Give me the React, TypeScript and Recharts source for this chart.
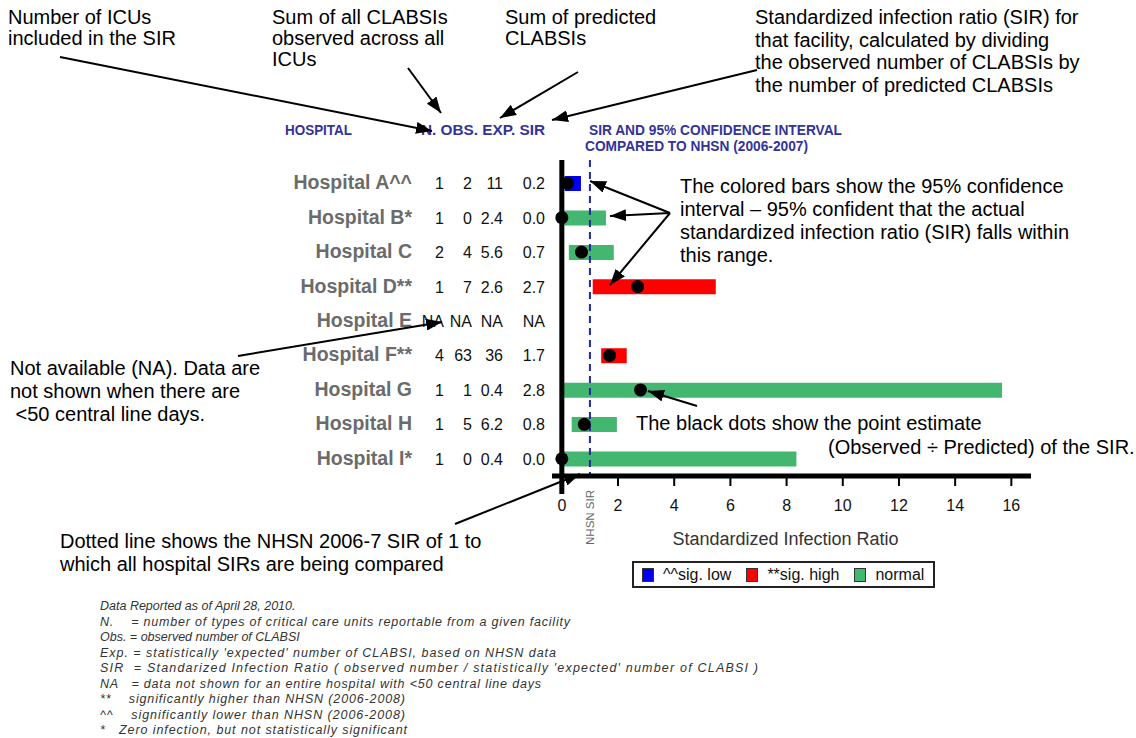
import React from "react"
import {
    ComposedChart,
    Bar,
    Line,
    XAxis,
    YAxis,
    ReferenceLine,
    Cell,
} from "recharts"

// table columns, one entry per hospital (null = not available)
const hospitals = [
    "Hospital A^^",
    "Hospital B*",
    "Hospital C",
    "Hospital D**",
    "Hospital E",
    "Hospital F**",
    "Hospital G",
    "Hospital H",
    "Hospital I*",
]
const icuCount = [1, 1, 2, 1, null, 4, 1, 1, 1]
const observed = [2, 0, 4, 7, null, 63, 1, 5, 0]
const expected = [11, 2.4, 5.6, 2.6, null, 36, 0.4, 6.2, 0.4]
const sirValues = [0.2, 0.0, 0.7, 2.7, null, 1.7, 2.8, 0.8, 0.0]

// 95% confidence interval bounds
const ciLower = [0.1, 0, 0.25, 1.1, null, 1.4, 0, 0.35, 0]
const ciUpper = [0.68, 1.57, 1.85, 5.48, null, 2.31, 15.67, 1.96, 8.35]
const significance = ["low", "normal", "normal", "high", null, "high", "normal", "normal", "normal"]

const xTicks = [0, 2, 4, 6, 8, 10, 12, 14, 16]
const nhsnSir = 1

const legendKeys = ["low", "high", "normal"]
const legendLabels = ["^^sig. low", "**sig. high", "normal"]

const colors: Record<string, string> = {
    low: "#0000ee",
    high: "#ff0000",
    normal: "#43b66f",
}

const FONT = '"Liberation Sans", Arial, Helvetica, sans-serif'

const rows = hospitals.map((hospital, i) => ({
    hospital,
    n: icuCount[i],
    obs: observed[i],
    exp: expected[i],
    sir: sirValues[i],
    ci: ciLower[i] == null ? null : [ciLower[i], ciUpper[i]],
    status: significance[i],
}))

const fmtCount = (v: number | null) => (v == null ? "NA" : String(v))
const fmtExp = (v: number | null) =>
    v == null ? "NA" : v >= 10 ? String(v) : v.toFixed(1)
const fmtSir = (v: number | null) => (v == null ? "NA" : v.toFixed(1))

function HospitalTick(props: any) {
    const { x, y, payload } = props
    const row = rows.find((r) => r.hospital === payload.value)
    if (!row) return null
    const cells = [fmtCount(row.n), fmtCount(row.obs), fmtExp(row.exp), fmtSir(row.sir)]
    const rightEdges = [-108, -80, -49, -7]
    return (
        <g fontFamily={FONT}>
            <text
                x={x - 140}
                y={y + 6}
                textAnchor="end"
                fontSize={19.5}
                fontWeight="bold"
                fill="#6b6b6b"
            >
                {row.hospital}
            </text>
            {cells.map((c, k) => (
                <text
                    key={k}
                    x={x + rightEdges[k]}
                    y={y + 6}
                    textAnchor="end"
                    fontSize={16}
                    fill="#111"
                >
                    {c}
                </text>
            ))}
        </g>
    )
}

function RatioTick(props: any) {
    const { x, y, payload } = props
    const origin = payload.value === 0
    return (
        <g>
            <line
                x1={x}
                y1={y}
                x2={x}
                y2={y + (origin ? 18 : 10)}
                stroke="#000"
                strokeWidth={origin ? 5 : 2}
            />
            <text
                x={x}
                y={y + 35}
                textAnchor="middle"
                fontFamily={FONT}
                fontSize={16}
                fill="#111"
            >
                {payload.value}
            </text>
        </g>
    )
}

function AxisTitle(props: any) {
    const { viewBox } = props
    return (
        <text
            x={viewBox.x + viewBox.width / 2 - 6}
            y={viewBox.y + 69}
            textAnchor="middle"
            fontFamily={FONT}
            fontSize={18}
            fill="#333"
        >
            Standardized Infection Ratio
        </text>
    )
}

function VerticalAxisLine(props: any) {
    const top = Math.min(props.y1, props.y2)
    const bottom = Math.max(props.y1, props.y2)
    return <line x1={props.x1} x2={props.x1} y1={top - 6} y2={bottom} stroke="#000" strokeWidth={5} />
}

function NhsnLine(props: any) {
    const top = Math.min(props.y1, props.y2)
    const bottom = Math.max(props.y1, props.y2)
    return (
        <g>
            <line
                x1={props.x1}
                x2={props.x1}
                y1={top - 6}
                y2={bottom + 2}
                stroke="#1f2a9c"
                strokeWidth={2}
                strokeDasharray="7 5"
            />
            <text
                transform={`translate(${props.x1 + 4}, ${bottom + 14}) rotate(-90)`}
                textAnchor="end"
                fontFamily={FONT}
                fontSize={11.5}
                fill="#666"
            >
                NHSN SIR
            </text>
        </g>
    )
}

function Arrow({ from, to }: { from: [number, number]; to: [number, number] }) {
    return (
        <line
            x1={from[0]}
            y1={from[1]}
            x2={to[0]}
            y2={to[1]}
            stroke="#000"
            strokeWidth={2}
            markerEnd="url(#arrowHead)"
        />
    )
}

function Lines({ x, y, step, lines, size = 20 }: any) {
    return (
        <text x={x} y={y} fontFamily={FONT} fontSize={size} fill="#000">
            {lines.map((l: string, i: number) => (
                <tspan key={i} x={x} y={y + i * step} style={{ whiteSpace: "pre" }}>
                    {l}
                </tspan>
            ))}
        </text>
    )
}

const footnotes = [
    "Data Reported as of April 28, 2010.",
    "N.    = number of types of critical care units reportable from a given facility",
    "Obs. = observed number of CLABSI",
    "Exp. = statistically 'expected' number of CLABSI, based on NHSN data",
    "SIR  = Standarized Infection Ratio ( observed number / statistically 'expected' number of CLABSI )",
    "NA   = data not shown for an entire hospital with <50 central line days",
    "**    significantly higher than NHSN (2006-2008)",
    "^^    significantly lower than NHSN (2006-2008)",
    "*   Zero infection, but not statistically significant",
]
const footnoteWidths = [null, 470, null, 456, 658, 441, 305, 305, 307]

export default function App() {
    return (
        <div style={{ position: "relative", width: 1136, height: 738, background: "#fff", fontFamily: FONT }}>
            <style>{"body{margin:0}"}</style>

            <div style={{ position: "absolute", left: 0, top: 0 }}>
                <ComposedChart
                    width={1136}
                    height={738}
                    data={rows}
                    layout="vertical"
                    margin={{ top: 166, right: 105, bottom: 192, left: 270 }}
                >
                    <XAxis
                        type="number"
                        domain={[-0.35, 16.7]}
                        ticks={xTicks}
                        interval={0}
                        allowDataOverflow
                        height={70}
                        tickSize={0}
                        tickMargin={0}
                        tickLine={false}
                        axisLine={{ stroke: "#000", strokeWidth: 5 }}
                        tick={<RatioTick />}
                        label={{ content: <AxisTitle /> }}
                    />
                    <YAxis
                        type="category"
                        dataKey="hospital"
                        width={282}
                        interval={0}
                        tickSize={0}
                        tickMargin={0}
                        tickLine={false}
                        axisLine={false}
                        tick={<HospitalTick />}
                    />
                    <Bar dataKey="ci" barSize={15} isAnimationActive={false}>
                        {rows.map((r, i) => (
                            <Cell key={i} fill={r.status ? colors[r.status] : "none"} />
                        ))}
                    </Bar>
                    <ReferenceLine x={0} shape={<VerticalAxisLine />} ifOverflow="visible" />
                    <ReferenceLine x={nhsnSir} shape={<NhsnLine />} ifOverflow="visible" />
                    <Line
                        dataKey="sir"
                        stroke="none"
                        dot={{ r: 6.5, fill: "#000", stroke: "#000", strokeWidth: 0 }}
                        activeDot={false}
                        isAnimationActive={false}
                    />
                </ComposedChart>
            </div>

            <div
                style={{
                    position: "absolute",
                    left: 632,
                    top: 561,
                    width: 303,
                    height: 27,
                    boxSizing: "border-box",
                    border: "2px solid #222",
                    display: "flex",
                    alignItems: "center",
                    paddingLeft: 8,
                    fontSize: 16,
                    color: "#111",
                    whiteSpace: "nowrap",
                }}
            >
                {legendKeys.map((k, i) => (
                    <div
                        key={k}
                        style={{ display: "flex", alignItems: "center", marginRight: 15, flexShrink: 0 }}
                    >
                        <span
                            style={{
                                display: "inline-block",
                                width: 10,
                                height: 12,
                                background: colors[k],
                                border: "1px solid #333",
                                marginRight: 9,
                            }}
                        />
                        <span>{legendLabels[i]}</span>
                    </div>
                ))}
            </div>

            <svg
                width={1136}
                height={738}
                style={{ position: "absolute", left: 0, top: 0, pointerEvents: "none" }}
            >
                <defs>
                    <marker
                        id="arrowHead"
                        viewBox="0 0 10 10"
                        refX={10}
                        refY={5}
                        markerWidth={16}
                        markerHeight={12}
                        markerUnits="userSpaceOnUse"
                        preserveAspectRatio="none"
                        orient="auto"
                    >
                        <path d="M0,0 L10,5 L0,10 z" fill="#000" />
                    </marker>
                </defs>

                {/* column headers */}
                <g fontFamily={FONT} fontWeight="bold" fontSize={14.5} fill="#333399">
                    <text x={285} y={135} textLength={67} lengthAdjust="spacingAndGlyphs">HOSPITAL</text>
                    <text x={421} y={135} textLength={124} lengthAdjust="spacingAndGlyphs">N. OBS. EXP. SIR</text>
                    <text x={589} y={135} textLength={253} lengthAdjust="spacingAndGlyphs">
                        SIR AND 95% CONFIDENCE INTERVAL
                    </text>
                    <text x={585} y={151} textLength={223} lengthAdjust="spacingAndGlyphs">
                        COMPARED TO NHSN (2006-2007)
                    </text>
                </g>

                {/* callouts */}
                <Lines x={8} y={24} step={21} lines={["Number of ICUs", "included in the SIR"]} />
                <Lines x={272} y={24} step={21} lines={["Sum of all CLABSIs", "observed across all", "ICUs"]} />
                <Lines x={505} y={24} step={21} lines={["Sum of predicted", "CLABSIs"]} />
                <Lines
                    x={755}
                    y={24}
                    step={22.5}
                    lines={[
                        "Standardized infection ratio (SIR) for",
                        "that facility, calculated by dividing",
                        "the observed number of CLABSIs by",
                        "the number of predicted CLABSIs",
                    ]}
                />
                <Lines
                    x={680}
                    y={193}
                    step={23}
                    lines={[
                        "The colored bars show the 95% confidence",
                        "interval \u2013 95% confident that the actual",
                        "standardized infection ratio (SIR) falls within",
                        "this range.",
                    ]}
                />
                <Lines
                    x={10}
                    y={375}
                    step={23}
                    lines={["Not available (NA). Data are", "not shown when there are", " <50 central line days."]}
                />
                <Lines x={636} y={430} step={24} lines={["The black dots show the point estimate"]} />
                <Lines x={828} y={454} step={24} lines={["(Observed \u00f7 Predicted) of the SIR."]} />
                <Lines
                    x={60}
                    y={548}
                    step={23}
                    lines={["Dotted line shows the NHSN 2006-7 SIR of 1 to", "which all hospital SIRs are being compared"]}
                />

                <Arrow from={[60, 57]} to={[432, 131]} />
                <Arrow from={[408, 68]} to={[441, 113]} />
                <Arrow from={[578, 72]} to={[500, 118]} />
                <Arrow from={[757, 70]} to={[552, 120]} />
                <Arrow from={[670, 213]} to={[590, 181]} />
                <Arrow from={[670, 213]} to={[610, 216]} />
                <Arrow from={[670, 213]} to={[610, 285]} />
                <Arrow from={[238, 356]} to={[442, 322]} />
                <Arrow from={[697, 406]} to={[648, 391]} />
                <Arrow from={[455, 524]} to={[580, 474]} />

                {/* footnotes */}
                <g fontFamily={FONT} fontStyle="italic" fontSize={12.5} fill="#333">
                    {footnotes.map((f, i) => (
                        <text
                            key={i}
                            x={100}
                            y={610 + i * 15.5}
                            textLength={footnoteWidths[i] ?? undefined}
                            lengthAdjust={footnoteWidths[i] ? "spacing" : undefined}
                            style={{ whiteSpace: "pre" }}
                        >
                            {f}
                        </text>
                    ))}
                </g>
            </svg>
        </div>
    )
}
